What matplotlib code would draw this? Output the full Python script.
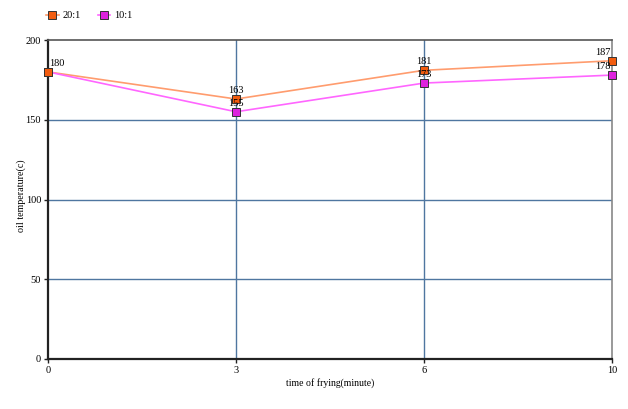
import matplotlib
matplotlib.use("Agg")
import matplotlib.pyplot as plt
from matplotlib.lines import Line2D

categories = ["0", "3", "6", "10"]
series_20 = [180, 163, 181, 187]
series_10 = [180, 155, 173, 178]
yticks = [0, 50, 100, 150, 200]

plt.rcParams['font.family'] = ['Liberation Serif', 'DejaVu Serif']

fig = plt.figure(figsize=(6.28, 4.09), dpi=100)
W, H = 628, 409
ax = fig.add_axes([48 / W, 1 - 359 / H, (612 - 48) / W, (359 - 40) / H])

x = list(range(len(categories)))
grid_c = "#4f76a0"
for v in yticks[1:-1]:
    ax.axhline(v, color=grid_c, lw=1.0, zorder=1)
for xi in x[1:-1]:
    ax.axvline(xi, color=grid_c, lw=1.0, zorder=1)

c20_line, c20_mark = "#ff9c6e", "#f25c0f"
c10_line, c10_mark = "#ff66ff", "#dd22dd"
ax.plot(x, series_20, color=c20_line, lw=1.2, zorder=3)
ax.plot(x, series_10, color=c10_line, lw=1.2, zorder=3)
ax.plot(x, series_10, ls="none", marker="s", ms=5.5, mfc=c10_mark, mec="#333333", mew=0.7, zorder=4, clip_on=False)
ax.plot(x, series_20, ls="none", marker="s", ms=5.5, mfc=c20_mark, mec="#333333", mew=0.7, zorder=5, clip_on=False)

fs = 7.5
ax.annotate(str(series_20[0]), (x[0], series_20[0]), xytext=(1, 3), textcoords="offset points",
            ha="left", va="bottom", fontsize=fs, zorder=6)
for i in (1, 2):
    ax.annotate(str(series_20[i]), (x[i], series_20[i]), xytext=(0, 3), textcoords="offset points",
                ha="center", va="bottom", fontsize=fs, zorder=6)
    ax.annotate(str(series_10[i]), (x[i], series_10[i]), xytext=(0, 3), textcoords="offset points",
                ha="center", va="bottom", fontsize=fs, zorder=6)
ax.annotate(str(series_20[3]), (x[3], series_20[3]), xytext=(-1, 3), textcoords="offset points",
            ha="right", va="bottom", fontsize=fs, zorder=6)
ax.annotate(str(series_10[3]), (x[3], series_10[3]), xytext=(-1, 3), textcoords="offset points",
            ha="right", va="bottom", fontsize=fs, zorder=6)

ax.set_xlim(x[0], x[-1])
ax.set_ylim(yticks[0], yticks[-1])
ax.set_yticks(yticks)
ax.set_xticks(x)
ax.set_xticklabels(categories)
ax.tick_params(labelsize=fs, length=3, width=1, color="#222222", pad=2)
ax.spines['left'].set_color("#222222")
ax.spines['left'].set_linewidth(1.6)
ax.spines['bottom'].set_color("#222222")
ax.spines['bottom'].set_linewidth(1.6)
ax.spines['top'].set_color("#555555")
ax.spines['top'].set_linewidth(1.2)
ax.spines['right'].set_color("#888888")
ax.spines['right'].set_linewidth(1.2)

fig.text(330 / W, 1 - 383 / H, "time of frying(minute)", fontsize=7, ha="center", va="center")
fig.text(21 / W, 1 - 196 / H, "oil temperature(c)", fontsize=7.2, ha="center", va="center", rotation=90)

handles = [
    Line2D([], [], color=c20_line, marker="s", ms=5.5, mfc=c20_mark, mec="#333333", mew=0.7, lw=1.2),
    Line2D([], [], color=c10_line, marker="s", ms=5.5, mfc=c10_mark, mec="#333333", mew=0.7, lw=1.2),
]
fig.legend(handles, ["20:1", "10:1"], loc="upper left", bbox_to_anchor=(46 / W, 1 - 11 / H),
           ncol=2, frameon=False, fontsize=fs, handlelength=1.2, handletextpad=0.4,
           columnspacing=1.6, borderaxespad=0, borderpad=0)

fig.savefig("out.png", dpi=100)
